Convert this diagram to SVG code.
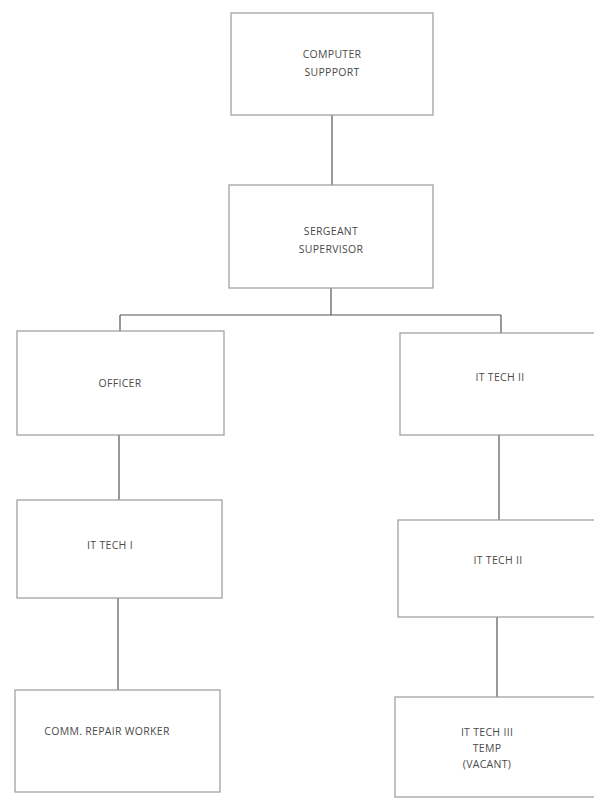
<svg xmlns="http://www.w3.org/2000/svg" width="594" height="798" viewBox="0 0 594 798">
<style>
.box{fill:#ffffff;stroke:#9a9a9a;stroke-width:1.2}
.lbl{font-family:"Open Sans","Liberation Sans",sans-serif;font-size:10.5px;fill:#4a4a4a;text-anchor:middle;letter-spacing:0.3px}
.conn{stroke:#555555;stroke-width:1.2;fill:none}
</style>
<rect width="594" height="798" fill="#ffffff"/>
<g id="connectors">
<path class="conn" d="M332 115 V185"/>
<path class="conn" d="M331 288 V315 M120 315 H501 M120 315 V331 M501 315 V333"/>
<path class="conn" d="M119 435 V500"/>
<path class="conn" d="M118 598 V690"/>
<path class="conn" d="M499 435 V520"/>
<path class="conn" d="M497 617 V697"/>
</g>
<g id="computer-support">
<rect class="box" x="231" y="13" width="202" height="102"/>
<text class="lbl" x="332" y="58">COMPUTER</text>
<text class="lbl" x="332" y="76">SUPPPORT</text>
</g>
<g id="sergeant-supervisor">
<rect class="box" x="229" y="185" width="204" height="103"/>
<text class="lbl" x="331" y="235">SERGEANT</text>
<text class="lbl" x="331" y="253">SUPERVISOR</text>
</g>
<g id="officer">
<rect class="box" x="17" y="331" width="207" height="104"/>
<text class="lbl" x="120" y="387">OFFICER</text>
</g>
<g id="it-tech-1">
<rect class="box" x="17" y="500" width="205" height="98"/>
<text class="lbl" x="110" y="549">IT TECH I</text>
</g>
<g id="comm-repair-worker">
<rect class="box" x="15" y="690" width="205" height="102"/>
<text class="lbl" x="107" y="735">COMM. REPAIR WORKER</text>
</g>
<g id="it-tech-2a">
<rect class="box" x="400" y="333" width="210" height="102"/>
<text class="lbl" x="500" y="381">IT TECH II</text>
</g>
<g id="it-tech-2b">
<rect class="box" x="398" y="520" width="210" height="97"/>
<text class="lbl" x="498" y="564">IT TECH II</text>
</g>
<g id="it-tech-3">
<rect class="box" x="395" y="697" width="215" height="100"/>
<text class="lbl" x="487" y="736">IT TECH III</text>
<text class="lbl" x="487" y="752">TEMP</text>
<text class="lbl" x="487" y="768">(VACANT)</text>
</g>
</svg>
